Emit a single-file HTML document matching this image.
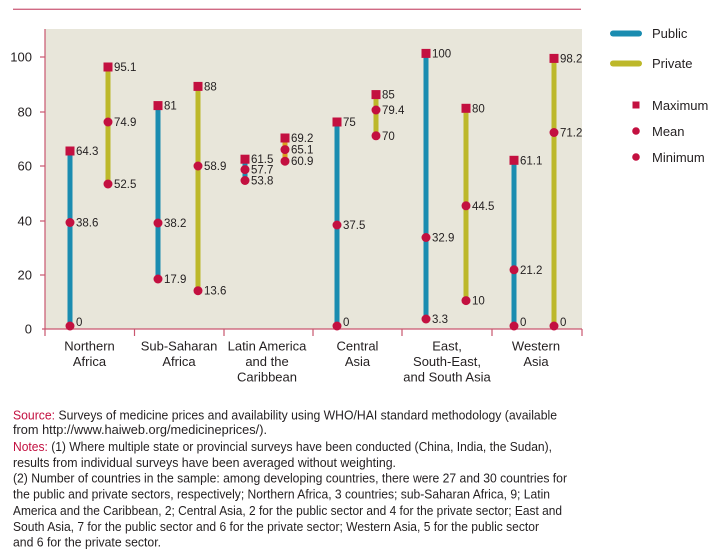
<!DOCTYPE html>
<html><head><meta charset="utf-8"><style>
html,body{margin:0;padding:0;background:#fff;}
svg{display:block;}
text{font-family:"Liberation Sans",sans-serif;fill:#231f20;}
</style></head><body>
<svg width="717" height="550" viewBox="0 0 717 550" xmlns="http://www.w3.org/2000/svg">
<rect x="13" y="8.6" width="568" height="1.4" fill="#d06a84"/>
<rect x="45" y="29" width="537" height="300" fill="#e8e6da"/>
<g stroke="#c9566f" stroke-width="1.2">
<line x1="45" y1="29" x2="45" y2="336"/>
<line x1="42" y1="329" x2="582" y2="329"/>
<line x1="134.5" y1="329" x2="134.5" y2="336"/>
<line x1="224" y1="329" x2="224" y2="336"/>
<line x1="313" y1="329" x2="313" y2="336"/>
<line x1="402" y1="329" x2="402" y2="336"/>
<line x1="492" y1="329" x2="492" y2="336"/>
<line x1="582" y1="329" x2="582" y2="336"/>
<line x1="40" y1="57" x2="45" y2="57"/>
<line x1="40" y1="112" x2="45" y2="112"/>
<line x1="40" y1="166" x2="45" y2="166"/>
<line x1="40" y1="221" x2="45" y2="221"/>
<line x1="40" y1="275" x2="45" y2="275"/>
</g>
<g font-size="13" text-anchor="end">
<text x="32" y="61.5">100</text>
<text x="32" y="116.5">80</text>
<text x="32" y="170.5">60</text>
<text x="32" y="225.5">40</text>
<text x="32" y="279.5">20</text>
<text x="32" y="333.5">0</text>
</g>
<g font-size="13" text-anchor="middle">
<text x="89.5" y="350.5">Northern</text><text x="89.5" y="366">Africa</text>
<text x="179" y="350.5">Sub-Saharan</text><text x="179" y="366">Africa</text>
<text x="267" y="350.5">Latin America</text><text x="267" y="366">and the</text><text x="267" y="381.5">Caribbean</text>
<text x="357.5" y="350.5">Central</text><text x="357.5" y="366">Asia</text>
<text x="447" y="350.5">East,</text><text x="447" y="366">South-East,</text><text x="447" y="381.5">and South Asia</text>
<text x="536" y="350.5">Western</text><text x="536" y="366">Asia</text>
</g>
<g stroke-width="5">
<line x1="70" y1="151" x2="70" y2="326" stroke="#1a8cb0"/>
<line x1="108" y1="67" x2="108" y2="184" stroke="#bdb82a"/>
<line x1="158" y1="105.6" x2="158" y2="279" stroke="#1a8cb0"/>
<line x1="198" y1="86.4" x2="198" y2="290.7" stroke="#bdb82a"/>
<line x1="245" y1="159.2" x2="245" y2="180.3" stroke="#1a8cb0"/>
<line x1="285" y1="138" x2="285" y2="160.8" stroke="#d9a020"/>
<line x1="337" y1="122" x2="337" y2="326" stroke="#1a8cb0"/>
<line x1="376" y1="94.6" x2="376" y2="135.8" stroke="#bdb82a"/>
<line x1="426" y1="53.4" x2="426" y2="319" stroke="#1a8cb0"/>
<line x1="466" y1="108.3" x2="466" y2="300.6" stroke="#bdb82a"/>
<line x1="514" y1="160.3" x2="514" y2="326" stroke="#1a8cb0"/>
<line x1="554" y1="58.4" x2="554" y2="326" stroke="#bdb82a"/>
</g>
<g fill="#c31040">
<rect x="65.5" y="146.5" width="9" height="9"/><circle cx="70" cy="222.5" r="4.5"/><circle cx="70" cy="326" r="4.5"/>
<rect x="103.5" y="62.5" width="9" height="9"/><circle cx="108" cy="122" r="4.5"/><circle cx="108" cy="184" r="4.5"/>
<rect x="153.5" y="101.1" width="9" height="9"/><circle cx="158" cy="223" r="4.5"/><circle cx="158" cy="279" r="4.5"/>
<rect x="193.5" y="81.9" width="9" height="9"/><circle cx="198" cy="166" r="4.5"/><circle cx="198" cy="290.7" r="4.5"/>
<rect x="240.5" y="154.7" width="9" height="9"/><circle cx="245" cy="169.6" r="4.5"/><circle cx="245" cy="180.5" r="4.5"/>
<rect x="280.5" y="133.5" width="9" height="9"/><circle cx="285" cy="149.6" r="4.5"/><circle cx="285" cy="161.2" r="4.5"/>
<rect x="332.5" y="117.5" width="9" height="9"/><circle cx="337" cy="225" r="4.5"/><circle cx="337" cy="326" r="4.5"/>
<rect x="371.5" y="90.1" width="9" height="9"/><circle cx="376" cy="110" r="4.5"/><circle cx="376" cy="135.8" r="4.5"/>
<rect x="421.5" y="48.9" width="9" height="9"/><circle cx="426" cy="237.5" r="4.5"/><circle cx="426" cy="319" r="4.5"/>
<rect x="461.5" y="103.8" width="9" height="9"/><circle cx="466" cy="205.8" r="4.5"/><circle cx="466" cy="300.6" r="4.5"/>
<rect x="509.5" y="155.8" width="9" height="9"/><circle cx="514" cy="269.8" r="4.5"/><circle cx="514" cy="326" r="4.5"/>
<rect x="549.5" y="53.9" width="9" height="9"/><circle cx="554" cy="132.5" r="4.5"/><circle cx="554" cy="326" r="4.5"/>
</g>
<g font-size="11.5">
<text x="76" y="155">64.3</text><text x="76" y="226.5">38.6</text><text x="76" y="326">0</text>
<text x="114" y="71">95.1</text><text x="114" y="126">74.9</text><text x="114" y="188">52.5</text>
<text x="164" y="109.6">81</text><text x="164" y="227">38.2</text><text x="164" y="283">17.9</text>
<text x="204" y="90.4">88</text><text x="204" y="170">58.9</text><text x="204" y="294.7">13.6</text>
<text x="251" y="163.2">61.5</text><text x="251" y="173.6">57.7</text><text x="251" y="184.5">53.8</text>
<text x="291" y="142">69.2</text><text x="291" y="153.6">65.1</text><text x="291" y="165.2">60.9</text>
<text x="343" y="126">75</text><text x="343" y="229">37.5</text><text x="343" y="326">0</text>
<text x="382" y="98.6">85</text><text x="382" y="114">79.4</text><text x="382" y="139.8">70</text>
<text x="432" y="57.4">100</text><text x="432" y="241.5">32.9</text><text x="432" y="323">3.3</text>
<text x="472" y="112.3">80</text><text x="472" y="209.8">44.5</text><text x="472" y="304.6">10</text>
<text x="520" y="164.3">61.1</text><text x="520" y="273.8">21.2</text><text x="520" y="326">0</text>
<text x="560" y="62.4">98.2</text><text x="560" y="136.5">71.2</text><text x="560" y="326">0</text>
</g>
<line x1="613" y1="33.5" x2="639" y2="33.5" stroke="#1a8cb0" stroke-width="6" stroke-linecap="round"/>
<line x1="613" y1="63.5" x2="639" y2="63.5" stroke="#bdb82a" stroke-width="6" stroke-linecap="round"/>
<rect x="632.5" y="101.5" width="7" height="7" fill="#c31040"/>
<circle cx="636" cy="131" r="3.8" fill="#c31040"/>
<circle cx="636" cy="157" r="3.8" fill="#c31040"/>
<g font-size="13">
<text x="652" y="38">Public</text>
<text x="652" y="68">Private</text>
<text x="652" y="110">Maximum</text>
<text x="652" y="136">Mean</text>
<text x="652" y="162">Minimum</text>
</g>
<g font-size="13">
<text x="13" y="419.5" textLength="544" lengthAdjust="spacingAndGlyphs"><tspan fill="#c31040">Source:</tspan>  Surveys of medicine prices and availability using WHO/HAI standard methodology (available</text>
<text x="13" y="434" textLength="254" lengthAdjust="spacingAndGlyphs">from http://www.haiweb.org/medicineprices/).</text>
<text x="13" y="451" textLength="539" lengthAdjust="spacingAndGlyphs"><tspan fill="#c31040">Notes:</tspan>  (1) Where multiple state or provincial surveys have been conducted (China, India, the Sudan),</text>
<text x="13" y="467" textLength="383" lengthAdjust="spacingAndGlyphs">results from individual surveys have been averaged without weighting.</text>
<text x="13" y="482.5" textLength="554" lengthAdjust="spacingAndGlyphs">(2) Number of countries in the sample: among developing countries, there were 27 and 30 countries for</text>
<text x="13" y="498.5" textLength="537" lengthAdjust="spacingAndGlyphs">the public and private sectors, respectively; Northern Africa, 3 countries; sub-Saharan Africa, 9; Latin</text>
<text x="13" y="515" textLength="549" lengthAdjust="spacingAndGlyphs">America and the Caribbean, 2; Central Asia, 2 for the public sector and 4 for the private sector; East and</text>
<text x="13" y="531" textLength="526" lengthAdjust="spacingAndGlyphs">South Asia, 7 for the public sector and 6 for the private sector; Western Asia, 5 for the public sector</text>
<text x="13" y="546.5" textLength="148" lengthAdjust="spacingAndGlyphs">and 6 for the private sector.</text>
</g>
</svg>
</body></html>
